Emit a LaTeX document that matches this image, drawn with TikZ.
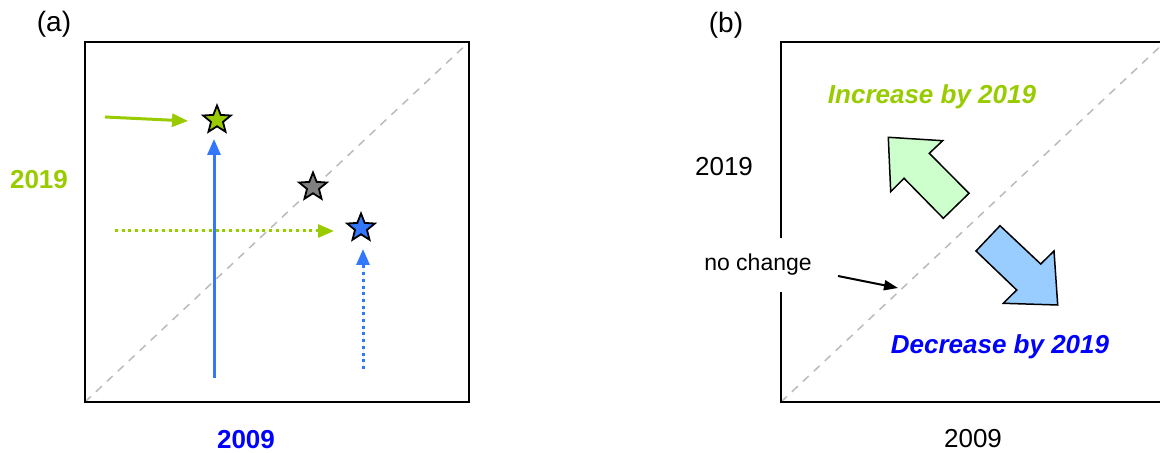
\documentclass[tikz,border=0pt]{standalone}
\usepackage{fontspec}
\setmainfont{Liberation Sans}
\usetikzlibrary{arrows.meta,shapes.geometric}
\definecolor{lgreen}{HTML}{99CC00}
\definecolor{lblue}{HTML}{3377FF}
\definecolor{pblue}{HTML}{0000FF}
\definecolor{dgray}{HTML}{BBBBBB}
\definecolor{fillgreen}{HTML}{CCFFCC}
\definecolor{fillblue}{HTML}{99CCFF}
\tikzset{
  frame/.style={draw=black,line width=1pt},
  diag/.style={draw=dgray,line width=0.75pt,dash pattern=on 4pt off 3.5pt},
  starnode/.style={star,star points=5,star point ratio=2.3,minimum size=14.5pt,inner sep=0pt,draw=black,line width=0.9pt},
  arr/.style={line width=1.5pt,-{Triangle[length=8pt,width=6.5pt]}},
  dotarr/.style={arr,dash pattern=on 1.5pt off 1.85pt},
  lab/.style={font=\fontsize{13pt}{15pt}\selectfont,inner sep=0pt},
  plab/.style={font=\fontsize{14pt}{16pt}\selectfont,inner sep=0pt},
  blab/.style={font=\fontsize{13pt}{15pt}\selectfont\bfseries,inner sep=0pt},
  bilab/.style={font=\fontsize{13pt}{15pt}\selectfont\bfseries\itshape,inner sep=0pt},
  blockarrow/.style={draw=black,line width=0.75pt,line join=miter},
}
\begin{document}
\begin{tikzpicture}[x=0.5pt,y=-0.5pt]
\useasboundingbox (0,0) rectangle (1160,453);
% ---------- panel (a)
\node[plab] (la) at (54,24) {(a)};
\draw[diag] (85,402) -- (469,42);
\node[frame,minimum width=192pt,minimum height=180pt,inner sep=0pt] (boxa) at (277,222) {};
\node[blab,text=lgreen] (y2019a) at (39,180) {2019};
\node[blab,text=pblue] (x2009a) at (246,440) {2009};
\node[starnode,fill=lgreen] (sg) at (217,120) {};
\node[starnode,fill=gray] (sgr) at (313,187) {};
\node[starnode,fill=lblue] (sb) at (361,228) {};
\coordinate (g1s) at (105,117);
\coordinate (g1e) at (188,121);
\coordinate (b1s) at (214,378);
\coordinate (b1e) at (214,139);
\coordinate (g2s) at (115,231);
\coordinate (g2e) at (334,231);
\coordinate (b2s) at (363,369);
\coordinate (b2e) at (363,249);
\draw[arr,draw=lgreen,fill=lgreen] (g1s) -- (g1e);
\draw[arr,draw=lblue,fill=lblue] (b1s) -- (b1e);
\draw[dotarr,draw=lgreen,fill=lgreen] (g2s) -- (g2e);
\draw[dotarr,draw=lblue,fill=lblue] (b2s) -- (b2e);
% ---------- panel (b)
\node[plab] (lb) at (726,25) {(b)};
\draw[diag] (781,402) -- (1165,42);
\draw[frame] (781,42) rectangle (1165,402);
\node[lab] (y2019b) at (724,167) {2019};
\node[lab] (x2009b) at (973,439) {2009};
\node[font=\fontsize{11.5pt}{13pt}\selectfont,fill=white,inner sep=0pt,minimum height=27pt,minimum width=58pt] (nc) at (758,265) {no change};
\coordinate (ncs) at (838,276);
\coordinate (nce) at (898,288);
\draw[line width=1pt,-{Triangle[length=7pt,width=5pt]}] (ncs) -- (nce);
\node[bilab,text=lgreen] (inc) at (932,97) {Increase by 2019};
\node[bilab,text=pblue] (dec) at (1000,347) {Decrease by 2019};
\draw[blockarrow,fill=fillgreen] (888.3,137.3) -- (942.7,140.7) -- (929.3,153.3) -- (969,193.3) -- (943.3,218.3) -- (904,178.3) -- (890.7,191.7) -- cycle;
\draw[blockarrow,fill=fillblue] (1000,225.7) -- (1040.7,264) -- (1054,251) -- (1057.7,305) -- (1003.3,303.3) -- (1016.7,290) -- (976,251) -- cycle;
\end{tikzpicture}
\end{document}
